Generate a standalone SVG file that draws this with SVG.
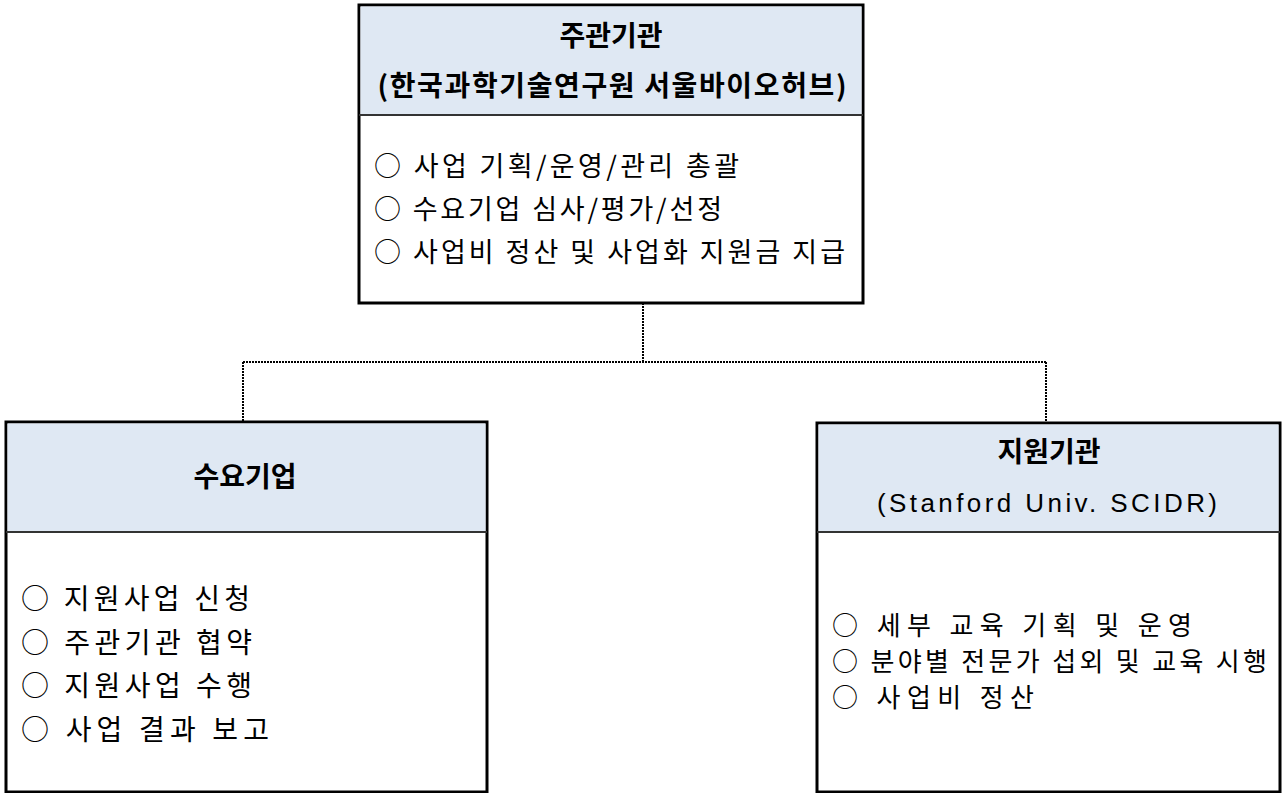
<svg xmlns="http://www.w3.org/2000/svg" width="1282" height="793" viewBox="0 0 1282 793">
<style>
.box{fill:#ffffff;stroke:#000000;stroke-width:3}
.hdr{fill:#dfe8f3}
.div{stroke:#333333;stroke-width:2}
.conn{fill:none;stroke:#000000;stroke-width:2;stroke-dasharray:2 1}
.t{font-family:"Noto Sans CJK KR","Noto Sans",sans-serif;font-size:27px;fill:#000000}
.h{font-weight:bold;text-anchor:middle;font-size:28px}
.lat{font-family:"Liberation Sans","Noto Sans CJK KR",sans-serif}
.l{font-size:28px}
.r{font-size:26px}
</style>
<rect width="1282" height="793" fill="#ffffff"/>
<g id="connectors">
<path class="conn" d="M643,303 V362"/>
<path class="conn" d="M243,362 H1046"/>
<path class="conn" d="M243,362 V422"/>
<path class="conn" d="M1046,362 V423"/>
</g>
<g id="node-main">
<rect class="box" x="359" y="5" width="504" height="298"/>
<rect class="hdr" x="360.5" y="6.5" width="501" height="108.5"/>
<line class="div" x1="359" y1="115" x2="863" y2="115"/>
<text class="t h" x="611" y="46">주관기관</text>
<text class="t h" x="612" y="96" textLength="469" lengthAdjust="spacing">(한국과학기술연구원 서울바이오허브)</text>
<text class="t" x="374" y="176" textLength="365" lengthAdjust="spacing">○ 사업 기획/운영/관리 총괄</text>
<text class="t" x="374" y="219" textLength="348" lengthAdjust="spacing">○ 수요기업 심사/평가/선정</text>
<text class="t" x="374" y="262" textLength="471" lengthAdjust="spacing">○ 사업비 정산 및 사업화 지원금 지급</text>
</g>
<g id="node-demand">
<rect class="box" x="6" y="422" width="481" height="370"/>
<rect class="hdr" x="7.5" y="423.5" width="478" height="108.5"/>
<line class="div" x1="6" y1="532" x2="487" y2="532"/>
<text class="t h" x="245" y="487">수요기업</text>
<text class="t l" x="21" y="609" textLength="229" lengthAdjust="spacing">○ 지원사업 신청</text>
<text class="t l" x="21" y="653" textLength="231" lengthAdjust="spacing">○ 주관기관 협약</text>
<text class="t l" x="21" y="696" textLength="231" lengthAdjust="spacing">○ 지원사업 수행</text>
<text class="t l" x="21" y="740" textLength="248" lengthAdjust="spacing">○ 사업 결과 보고</text>
</g>
<g id="node-support">
<rect class="box" x="817" y="423" width="463" height="369"/>
<rect class="hdr" x="818.5" y="424.5" width="460" height="107.5"/>
<line class="div" x1="817" y1="532" x2="1280" y2="532"/>
<text class="t h" x="1049" y="462">지원기관</text>
<text class="t lat" x="1047" y="512" text-anchor="middle" textLength="340" lengthAdjust="spacing" style="font-size:26px">(Stanford Univ. SCIDR)</text>
<text class="t r" x="832" y="635" textLength="360" lengthAdjust="spacing">○ 세부 교육 기획 및 운영</text>
<text class="t r" x="832" y="671" textLength="435" lengthAdjust="spacing">○ 분야별 전문가 섭외 및 교육 시행</text>
<text class="t r" x="832" y="707" textLength="202" lengthAdjust="spacing">○ 사업비 정산</text>
</g>
</svg>
